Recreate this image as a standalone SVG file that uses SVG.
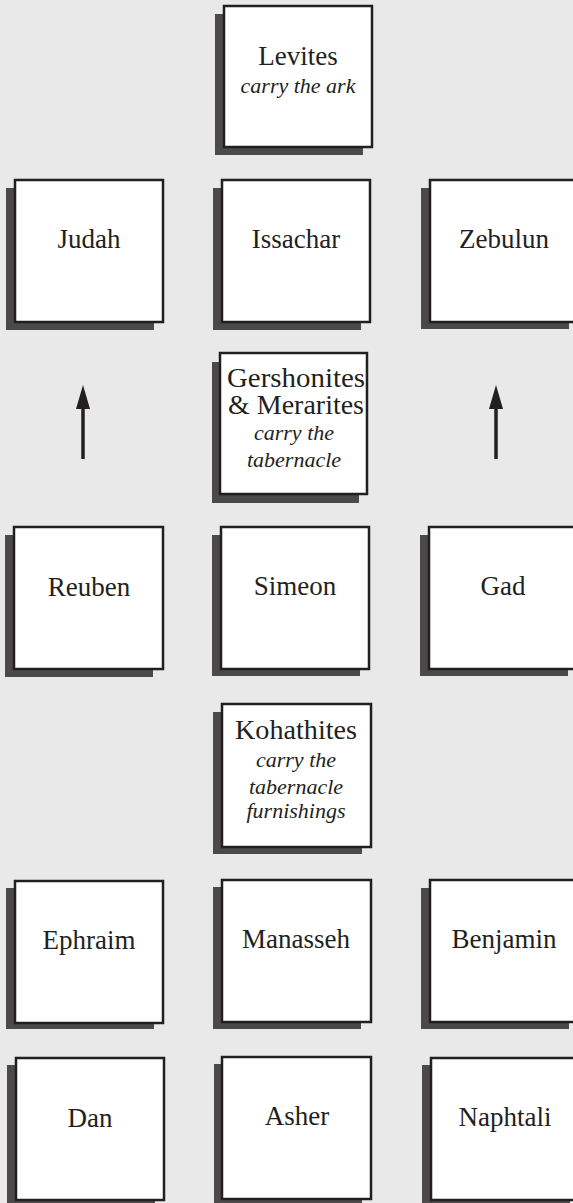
<svg xmlns="http://www.w3.org/2000/svg" width="573" height="1203" viewBox="0 0 573 1203">
<style>
.shadow{fill:#4b494a}
.box{fill:#fff;stroke:#231f20;stroke-width:2.5}
.t{font-family:"Liberation Serif","DejaVu Serif",serif;font-size:27px;fill:#231f20;text-anchor:middle}
.i{font-family:"Liberation Serif","DejaVu Serif",serif;font-size:22px;font-style:italic;fill:#231f20;text-anchor:middle}
.arrow{stroke:#231f20;stroke-width:3.5;fill:none}
</style>
<defs>
<marker id="ah" markerWidth="14" markerHeight="24" refX="7" refY="0" orient="auto" markerUnits="userSpaceOnUse" viewBox="0 0 14 24">
<path d="M7,0 L14,24 L0,24 Z" fill="#231f20"/>
</marker>
</defs>
<rect width="573" height="1203" fill="#e9e9e9"/>
<g id="connectors">
<line class="arrow" x1="83" y1="459" x2="83" y2="408"/>
<path d="M83,385 L90,409 L76,409 Z" fill="#231f20"/>
<line class="arrow" x1="496" y1="459" x2="496" y2="408"/>
<path d="M496,385 L503,409 L489,409 Z" fill="#231f20"/>
</g>
<g id="levites">
<rect class="shadow" x="215" y="14" width="148" height="141"/>
<rect class="box" x="224" y="6" width="148" height="141"/>
<text class="t" x="298" y="65">Levites</text>
<text class="i" x="298" y="93">carry the ark</text>
</g>
<g id="judah">
<rect class="shadow" x="6" y="188" width="148" height="142"/>
<rect class="box" x="15" y="180" width="148" height="142"/>
<text class="t" x="89" y="248">Judah</text>
</g>
<g id="issachar">
<rect class="shadow" x="213" y="188" width="148" height="142"/>
<rect class="box" x="222" y="180" width="148" height="142"/>
<text class="t" x="296" y="248">Issachar</text>
</g>
<g id="zebulun">
<rect class="shadow" x="421" y="188" width="148" height="141"/>
<rect class="box" x="430" y="180" width="148" height="142"/>
<text class="t" x="504" y="248">Zebulun</text>
</g>
<g id="gershonites">
<rect class="shadow" x="212" y="362" width="147" height="141"/>
<rect class="box" x="220" y="353" width="147" height="141"/>
<text class="t" x="296" y="387" textLength="138" lengthAdjust="spacingAndGlyphs">Gershonites</text>
<text class="t" x="296" y="414" textLength="136" lengthAdjust="spacingAndGlyphs">&amp; Merarites</text>
<text class="i" x="294" y="440">carry the</text>
<text class="i" x="294" y="467">tabernacle</text>
</g>
<g id="reuben">
<rect class="shadow" x="5" y="535" width="148" height="142"/>
<rect class="box" x="14" y="527" width="149" height="142"/>
<text class="t" x="89" y="596">Reuben</text>
</g>
<g id="simeon">
<rect class="shadow" x="212" y="535" width="148" height="141"/>
<rect class="box" x="221" y="527" width="148" height="142"/>
<text class="t" x="295" y="595">Simeon</text>
</g>
<g id="gad">
<rect class="shadow" x="420" y="535" width="148" height="141"/>
<rect class="box" x="429" y="527" width="148" height="142"/>
<text class="t" x="503" y="595">Gad</text>
</g>
<g id="kohathites">
<rect class="shadow" x="213" y="712" width="149" height="142"/>
<rect class="box" x="222" y="704" width="149" height="143"/>
<text class="t" x="296" y="739" textLength="122" lengthAdjust="spacingAndGlyphs">Kohathites</text>
<text class="i" x="296" y="767">carry the</text>
<text class="i" x="296" y="794">tabernacle</text>
<text class="i" x="296" y="818">furnishings</text>
</g>
<g id="ephraim">
<rect class="shadow" x="6" y="888" width="148" height="141"/>
<rect class="box" x="15" y="881" width="148" height="142"/>
<text class="t" x="89" y="949">Ephraim</text>
</g>
<g id="manasseh">
<rect class="shadow" x="213" y="887" width="148" height="142"/>
<rect class="box" x="222" y="880" width="149" height="142"/>
<text class="t" x="296" y="948">Manasseh</text>
</g>
<g id="benjamin">
<rect class="shadow" x="421" y="888" width="148" height="141"/>
<rect class="box" x="430" y="880" width="148" height="142"/>
<text class="t" x="504" y="948">Benjamin</text>
</g>
<g id="dan">
<rect class="shadow" x="7" y="1065" width="148" height="142"/>
<rect class="box" x="16" y="1058" width="148" height="142"/>
<text class="t" x="90" y="1127">Dan</text>
</g>
<g id="asher">
<rect class="shadow" x="214" y="1064" width="148" height="142"/>
<rect class="box" x="222" y="1057" width="149" height="142"/>
<text class="t" x="297" y="1125">Asher</text>
</g>
<g id="naphtali">
<rect class="shadow" x="422" y="1065" width="148" height="142"/>
<rect class="box" x="431" y="1058" width="148" height="142"/>
<text class="t" x="505" y="1126">Naphtali</text>
</g>
</svg>
